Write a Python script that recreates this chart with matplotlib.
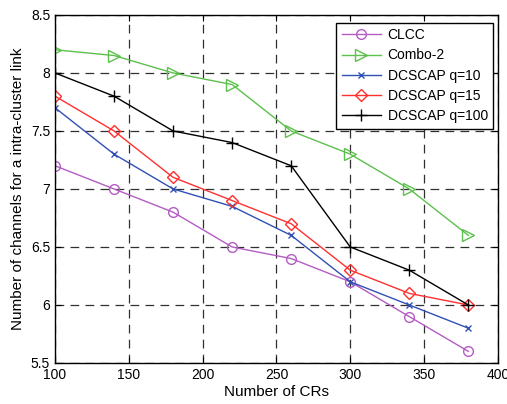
import matplotlib
matplotlib.use("Agg")
import matplotlib.pyplot as plt

plt.rcParams['font.family'] = ['Liberation Sans', 'DejaVu Sans']

x = [100, 140, 180, 220, 260, 300, 340, 380]
clcc = [7.2, 7.0, 6.8, 6.5, 6.4, 6.2, 5.9, 5.6]
combo2 = [8.2, 8.15, 8.0, 7.9, 7.5, 7.3, 7.0, 6.6]
q10 = [7.7, 7.3, 7.0, 6.85, 6.6, 6.2, 6.0, 5.8]
q15 = [7.8, 7.5, 7.1, 6.9, 6.7, 6.3, 6.1, 6.0]
q100 = [8.0, 7.8, 7.5, 7.4, 7.2, 6.5, 6.3, 6.0]

fig = plt.figure(figsize=(5.07, 4.04), dpi=100)
ax = fig.add_axes([0.1085, 0.1015, 0.8735, 0.8615])

ax.plot(x, clcc, color='#b45cc4', marker='o', mfc='none', ms=7, lw=1, label='CLCC')
ax.plot(x, combo2, color='#5cc04c', marker='>', mfc='none', ms=9, lw=1, label='Combo-2')
ax.plot(x, q10, color='#3050b4', marker='x', ms=4, lw=1, label='DCSCAP q=10')
ax.plot(x, q15, color='#ff3030', marker='D', mfc='none', ms=6, lw=1, label='DCSCAP q=15')
ax.plot(x, q100, color='black', marker='+', ms=8, lw=1, label='DCSCAP q=100')

ax.set_xlim(100, 400)
ax.set_ylim(5.5, 8.5)
ax.set_xticks([100, 150, 200, 250, 300, 350, 400])
ax.set_yticks([5.5, 6, 6.5, 7, 7.5, 8, 8.5])
ax.set_yticklabels(['5.5', '6', '6.5', '7', '7.5', '8', '8.5'])
ax.grid(True, color='#303030', linestyle=(0, (7, 5)), lw=0.9)
ax.tick_params(direction='in', top=True, right=True, labelsize=10, length=4)
for s in ax.spines.values():
    s.set_linewidth(1)
ax.set_xlabel('Number of CRs', fontsize=11, labelpad=2)
ax.set_ylabel('Number of channels for a intra-cluster link', fontsize=11, labelpad=4)

leg = ax.legend(loc='upper right', bbox_to_anchor=(0.99, 0.978), borderaxespad=0,
                fontsize=10, fancybox=False, edgecolor='black',
                framealpha=1, handlelength=2.8, handletextpad=0.5,
                labelspacing=0.45, borderpad=0.4)
leg.get_frame().set_linewidth(1)

fig.savefig('out.png', dpi=100)
